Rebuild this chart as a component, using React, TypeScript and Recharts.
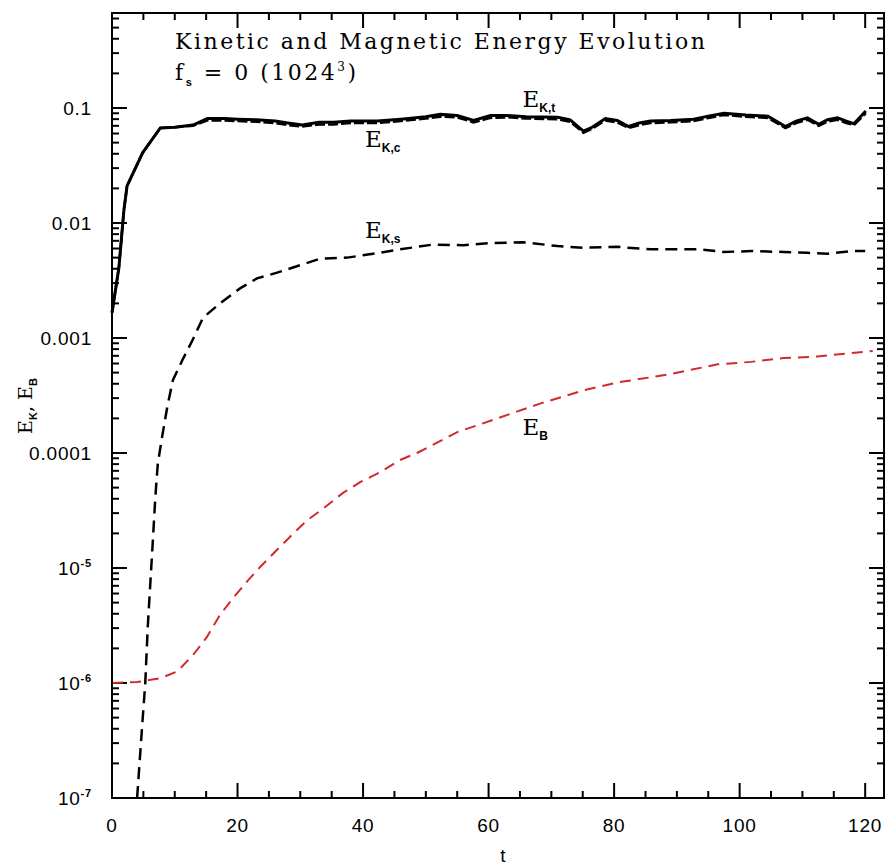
import React from "react";
import { LineChart, Line, XAxis, YAxis, ReferenceDot, ReferenceLine } from "recharts";

// axis ticks
const xTicks = [0, 5, 10, 15, 20, 25, 30, 35, 40, 45, 50, 55, 60, 65, 70, 75, 80, 85, 90, 95, 100, 105, 110, 115, 120];
const xMajor = [0, 20, 40, 60, 80, 100, 120];
const yDecades = [1e-7, 1e-6, 1e-5, 1e-4, 1e-3, 1e-2, 1e-1];
const yDecadeLabels = ["10^-7", "10^-6", "10^-5", "0.0001", "0.001", "0.01", "0.1"];
const yMin = 1e-7;
const yMax = 0.67;
const xMax = 123;

// E_K,t  (total kinetic energy)
const tKt = [0, 1.1, 1.9, 2.4, 4.9, 7.7, 10, 12.9, 15.2, 18, 20, 23, 26, 28, 30.3, 33, 35.3, 38, 42.3, 46, 50, 52.3, 55, 57.6, 60.3, 63, 66, 71, 73, 75.1, 76.5, 78.6, 80.5, 82.3, 84, 85.8, 89, 92.7, 95, 97.5, 101, 104.5, 107.3, 109, 110.8, 112.6, 114, 115.6, 117, 118.2, 120.1];
const eKt = [0.00166, 0.0041, 0.013, 0.021, 0.041, 0.067, 0.068, 0.071, 0.081, 0.081, 0.08, 0.079, 0.077, 0.074, 0.071, 0.075, 0.075, 0.077, 0.077, 0.08, 0.084, 0.088, 0.086, 0.078, 0.086, 0.086, 0.084, 0.083, 0.079, 0.063, 0.068, 0.081, 0.078, 0.069, 0.074, 0.077, 0.078, 0.08, 0.085, 0.09, 0.087, 0.085, 0.069, 0.077, 0.082, 0.072, 0.079, 0.082, 0.077, 0.073, 0.094];

// E_K,c  (compressive part)
const tKc = [0, 1.1, 1.9, 2.4, 4.9, 7.7, 10, 12.9, 15.2, 18, 20, 23, 26, 28, 30.3, 33, 35.3, 38, 42.3, 46, 50, 52.3, 55, 57.6, 60.3, 63, 66, 71, 73, 75.1, 76.5, 78.6, 80.5, 82.3, 84, 85.8, 89, 92.7, 95, 97.5, 101, 104.5, 107.3, 109, 110.8, 112.6, 114, 115.6, 117, 118.2, 120.1];
const eKc = [0.00166, 0.0041, 0.013, 0.021, 0.041, 0.067, 0.068, 0.07, 0.078, 0.078, 0.077, 0.076, 0.074, 0.071, 0.069, 0.072, 0.072, 0.074, 0.074, 0.077, 0.081, 0.084, 0.083, 0.075, 0.082, 0.083, 0.081, 0.08, 0.076, 0.061, 0.066, 0.078, 0.075, 0.067, 0.071, 0.074, 0.075, 0.077, 0.082, 0.087, 0.084, 0.082, 0.067, 0.074, 0.079, 0.07, 0.076, 0.079, 0.074, 0.071, 0.09];

// E_K,s  (solenoidal part)
const tKs = [4.0, 4.8, 5.3, 5.7, 6.5, 6.9, 7.3, 8.0, 8.8, 9.7, 11.2, 12.8, 14.5, 17.2, 20.4, 23.1, 26.3, 30, 33.2, 37.5, 41.6, 45.9, 51.2, 56, 60.3, 65.5, 71, 75, 80.5, 85.8, 93.8, 97.4, 102, 107, 110.8, 114, 117.7, 120];
const eKs = [1e-7, 4.2e-7, 1e-6, 3.1e-6, 1.7e-5, 4.1e-5, 8.1e-5, 1.4e-4, 2.5e-4, 4.3e-4, 6.4e-4, 9.5e-4, 1.5e-3, 2.0e-3, 2.7e-3, 3.3e-3, 3.7e-3, 4.3e-3, 4.9e-3, 5.0e-3, 5.4e-3, 5.9e-3, 6.5e-3, 6.4e-3, 6.7e-3, 6.8e-3, 6.3e-3, 6.1e-3, 6.2e-3, 5.9e-3, 5.9e-3, 5.6e-3, 5.7e-3, 5.6e-3, 5.5e-3, 5.4e-3, 5.7e-3, 5.7e-3];

// E_B  (magnetic energy)
const tB = [0, 4, 7.7, 10.4, 12.9, 15.1, 17.2, 19.3, 21.5, 23.6, 26.3, 28.9, 31.1, 33.7, 36.8, 39.6, 42.7, 45.9, 48.6, 51.8, 55, 58.2, 61.4, 64.6, 68.3, 75.1, 80.5, 88.5, 96.5, 101.8, 107, 112.4, 117.7, 121.2];
const eB = [1e-6, 1.02e-6, 1.1e-6, 1.26e-6, 1.75e-6, 2.5e-6, 3.9e-6, 5.5e-6, 7.6e-6, 1.02e-5, 1.44e-5, 2.0e-5, 2.6e-5, 3.3e-5, 4.5e-5, 5.6e-5, 6.8e-5, 8.7e-5, 1.0e-4, 1.23e-4, 1.52e-4, 1.74e-4, 2.0e-4, 2.3e-4, 2.7e-4, 3.5e-4, 4.1e-4, 4.8e-4, 5.9e-4, 6.2e-4, 6.7e-4, 6.9e-4, 7.4e-4, 7.7e-4];

const zip = (ts: number[], vs: number[]) => ts.map((t, i) => ({ t, v: vs[i] }));

const yTicks: number[] = [];
yDecades.forEach((d) => {
  for (let m = 1; m <= 9; m++) {
    const v = d * m;
    if (v <= yMax) yTicks.push(v);
  }
});

// chart box
const W = 893;
const H = 867;
const M = { top: 13, right: 9, bottom: 0, left: 0 };
const Y_AXIS_W = 112;
const X_AXIS_H = 69;
const PLOT_W = W - M.left - M.right - Y_AXIS_W;
const PLOT_H = H - M.top - M.bottom - X_AXIS_H;

// tick lengths in pixels, turned into axis units
const MAJOR_PX = 15;
const MINOR_PX = 7;
const xPerPx = xMax / PLOT_W;
const decPerPx = (Math.log10(yMax) - Math.log10(yMin)) / PLOT_H;

const decadeIndex = (v: number) => yDecades.findIndex((d) => Math.abs(d - v) / d < 1e-6);
const sans = "Liberation Sans, Arial, sans-serif";
const serif = "DejaVu Serif, serif";

function YLabel({ x, y, text }: any) {
  if (text.startsWith("10^")) {
    return (
      <text x={x} y={y + 7} textAnchor="end" fontFamily={sans} fontSize={19} letterSpacing={0.8} fill="#000">
        10<tspan dy={-8} fontSize={11} fontWeight="bold">{text.slice(3)}</tspan>
      </text>
    );
  }
  return (
    <text x={x} y={y + 7} textAnchor="end" fontFamily={sans} fontSize={19} letterSpacing={0.8} fill="#000">
      {text}
    </text>
  );
}

const LeftTick = (props: any) => {
  const idx = decadeIndex(props.payload.value);
  if (idx < 0) return <g />;
  return <YLabel x={Number(props.x) - 20} y={Number(props.y)} text={yDecadeLabels[idx]} />;
};

const BottomTick = (props: any) => {
  const v = props.payload.value;
  if (!xMajor.includes(v)) return <g />;
  return (
    <text x={Number(props.x)} y={Number(props.y) + 34} textAnchor="middle" fontFamily={sans} fontSize={19} letterSpacing={0.8} fill="#000">
      {v}
    </text>
  );
};

const curveLabel = (sub: string) => (props: any) => {
  const { x, y } = props.viewBox;
  return (
    <text x={x} y={y} fontFamily={serif} fontSize={23} fill="#000">
      E
      <tspan dy={5} fontSize={12} fontFamily={sans} fontWeight="bold">
        {sub}
      </tspan>
    </text>
  );
};

// inward tick marks on all four sides of the frame
const tickMarks: React.ReactElement[] = [];
yTicks.forEach((v, i) => {
  const dx = (decadeIndex(v) >= 0 ? MAJOR_PX : MINOR_PX) * xPerPx;
  tickMarks.push(
    <ReferenceLine key={`yl${i}`} xAxisId="b" yAxisId="l" segment={[{ x: 0, y: v }, { x: dx, y: v }]} stroke="#000" strokeWidth={2} ifOverflow="visible" />,
    <ReferenceLine key={`yr${i}`} xAxisId="b" yAxisId="l" segment={[{ x: xMax - dx, y: v }, { x: xMax, y: v }]} stroke="#000" strokeWidth={2} ifOverflow="visible" />
  );
});
xTicks.forEach((t, i) => {
  const f = Math.pow(10, (xMajor.includes(t) ? MAJOR_PX : MINOR_PX) * decPerPx);
  tickMarks.push(
    <ReferenceLine key={`xb${i}`} xAxisId="b" yAxisId="l" segment={[{ x: t, y: yMin }, { x: t, y: yMin * f }]} stroke="#000" strokeWidth={2} ifOverflow="visible" />,
    <ReferenceLine key={`xt${i}`} xAxisId="b" yAxisId="l" segment={[{ x: t, y: yMax / f }, { x: t, y: yMax }]} stroke="#000" strokeWidth={2} ifOverflow="visible" />
  );
});

export default function App() {
  return (
    <div style={{ position: "absolute", left: 0, top: 0, width: W, height: H, background: "#fff" }}>
      <LineChart width={W} height={H} margin={M}>
        <XAxis
          xAxisId="b"
          dataKey="t"
          type="number"
          domain={[0, xMax]}
          ticks={xTicks}
          interval={0}
          height={X_AXIS_H}
          tickSize={0}
          tickMargin={0}
          tick={BottomTick}
          axisLine={{ stroke: "#000", strokeWidth: 2 }}
        />
        <YAxis
          yAxisId="l"
          type="number"
          scale="log"
          domain={[yMin, yMax]}
          ticks={yTicks}
          interval={0}
          width={Y_AXIS_W}
          tickSize={0}
          tickMargin={0}
          tick={LeftTick}
          axisLine={{ stroke: "#000", strokeWidth: 2 }}
        />
        {tickMarks}
        <Line xAxisId="b" yAxisId="l" data={zip(tB, eB)} dataKey="v" type="linear" stroke="#d12a2a" strokeWidth={2} strokeDasharray="11 7" dot={false} isAnimationActive={false} />
        <Line xAxisId="b" yAxisId="l" data={zip(tKs, eKs)} dataKey="v" type="linear" stroke="#000" strokeWidth={2.5} strokeDasharray="12 7" dot={false} isAnimationActive={false} />
        <Line xAxisId="b" yAxisId="l" data={zip(tKt, eKt)} dataKey="v" type="linear" stroke="#000" strokeWidth={3} dot={false} isAnimationActive={false} />
        <Line xAxisId="b" yAxisId="l" data={zip(tKc, eKc)} dataKey="v" type="linear" stroke="#000" strokeWidth={2.5} strokeDasharray="10 3" dot={false} isAnimationActive={false} />
        <ReferenceDot xAxisId="b" yAxisId="l" x={65.4} y={0.102} r={0} fill="none" stroke="none" label={{ content: curveLabel("K,t") }} />
        <ReferenceDot xAxisId="b" yAxisId="l" x={40.3} y={0.0458} r={0} fill="none" stroke="none" label={{ content: curveLabel("K,c") }} />
        <ReferenceDot xAxisId="b" yAxisId="l" x={40.3} y={0.0074} r={0} fill="none" stroke="none" label={{ content: curveLabel("K,s") }} />
        <ReferenceDot xAxisId="b" yAxisId="l" x={65.4} y={1.43e-4} r={0} fill="none" stroke="none" label={{ content: curveLabel("B") }} />
      </LineChart>
      <svg width={W} height={H} style={{ position: "absolute", left: 0, top: 0, pointerEvents: "none" }}>
        <rect x={Y_AXIS_W} y={M.top} width={PLOT_W} height={PLOT_H} fill="none" stroke="#000" strokeWidth={2} />
        <text x={175} y={49} fontFamily={serif} fontSize={22} letterSpacing={2.5} fill="#000">
          Kinetic and Magnetic Energy Evolution
        </text>
        <text x={175} y={80} fontFamily={serif} fontSize={22} letterSpacing={2.5} fill="#000">
          f<tspan dy={6} fontSize={11} fontFamily={sans} fontWeight="bold">s</tspan>
          <tspan dy={-6}> = 0 (1024</tspan>
          <tspan dy={-9} fontSize={12}>3</tspan>
          <tspan dy={9}>)</tspan>
        </text>
        <text x={32} y={406} transform="rotate(-90 32 406)" textAnchor="middle" fontFamily={serif} fontSize={19} fill="#000">
          E<tspan dy={5} fontSize={11} fontFamily={sans} fontWeight="bold">K</tspan>
          <tspan dy={-5}>, E</tspan>
          <tspan dy={5} fontSize={11} fontFamily={sans} fontWeight="bold">B</tspan>
        </text>
        <text x={503} y={862} textAnchor="middle" fontFamily={sans} fontSize={19} fill="#000">
          t
        </text>
      </svg>
    </div>
  );
}
